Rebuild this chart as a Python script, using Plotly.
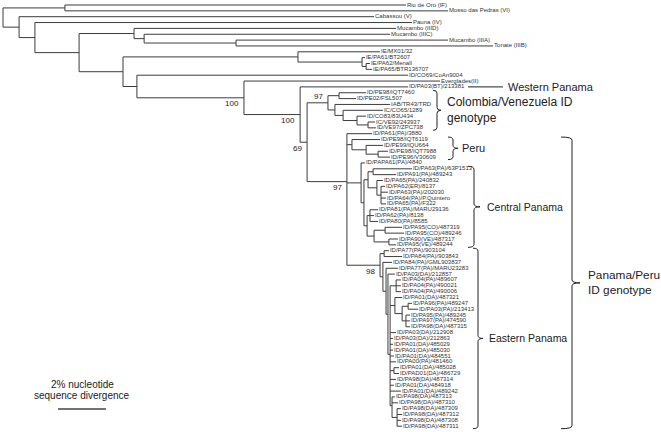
import plotly.graph_objects as go

# Leaves from top to bottom; depth = % nucleotide divergence from the root
leaf_names = [
    "Rio de Oro (IF)", "Mosso das Pedras (VI)", "Cabassou (V)", "Pauna (IV)",
    "Mucambo (IIID)", "Mucambo (IIIC)", "Mucambo (IIIA)", "Tonate (IIIB)",
    "IE/MX01/32", "IE/PA61/BT2607", "IE/PA62/Menall", "IE/PA65/BTR136707",
    "ID/CO69/CoAn9004", "Everglades(II)", "ID/PA03(BT)/213381",
    "ID/PE98/IQT7460", "ID/PE02/FSL507", "IAB/TR43/TRD", "IC/CO65/1289",
    "ID/CO83/83U434", "IC/VE92/243937", "ID/VE97/ZPC738",
    "ID/PA61(PA)/3880", "ID/PE98/IQT6119", "ID/PE99/IQU664", "ID/PE98/IQT7988",
    "ID/PE96/V30609", "ID/PAPA61(PA)/4840", "ID/PA63(PA)/63P1513",
    "ID/PA91(PA)/489243", "ID/PA65(PA)/240832", "ID/PA62(ER)/8137",
    "ID/PA63(PA)/202030", "ID/PA64(PA)/P.Quintero", "ID/PA65(PA)/F322",
    "ID/PA81(PA)/MARU29136", "ID/PA62(PA)/8138", "ID/PA80(PA)/8585",
    "ID/PA95(CO)/487319", "ID/PA95(CO)/489246", "ID/PA90(VE)/487317",
    "ID/PA95(VE)/489244", "ID/PA77(PA)/903104", "ID/PA84(PA)/903843",
    "ID/PA84(PA)/GML903837", "ID/PA77(PA)/MARU23283", "ID/PA03(DA)/212857",
    "ID/PA04(PA)/489607", "ID/PA04(PA)/490021", "ID/PA04(PA)/490006",
    "ID/PA01(DA)/487321", "ID/PA96(PA)/489247", "ID/PA03(PA)/213413",
    "ID/PA95(PA)/489245", "ID/PA97(PA)/474590", "ID/PA98(DA)/487315",
    "ID/PA03(DA)/212908", "ID/PA03(DA)/212863", "ID/PA01(DA)/485029",
    "ID/PA01(DA)/485030", "ID/PA01(DA)/484551", "ID/PA00(PA)/481460",
    "ID/PA01(DA)/485028", "ID/PAD01(DA)/486729", "ID/PA98(DA)/487314",
    "ID/PA01(DA)/484918", "ID/PA01(DA)/489242", "ID/PA98(DA)/487313",
    "ID/PA98(DA)/487310", "ID/PA98(DA)/487309", "ID/PA98(DA)/487312",
    "ID/PA98(DA)/487308", "ID/PA98(DA)/487311",
]
leaf_depth = [
    16.79, 18.54, 15.46, 17.04, 16.38, 16.13, 18.54, 20.42,
    15.71, 15.08, 15.29, 15.38, 16.88, 18.21, 16.88,
    15.13, 14.71, 16.13, 15.83, 15.13, 15.50, 15.54,
    15.38, 15.71, 15.83, 16.04, 16.13, 15.08, 17.04, 16.38,
    15.83, 15.92, 16.04, 15.96, 15.96, 15.63, 15.46, 15.63,
    16.63, 16.71, 16.46, 16.38, 16.08, 16.63, 16.21, 16.46, 16.33,
    16.58, 16.58, 16.58, 16.63, 17.04, 17.29, 16.96, 16.96, 16.96,
    16.38, 16.25, 16.25, 16.25, 16.29, 16.38, 16.50, 16.50, 16.38,
    16.29, 16.58, 16.33, 16.46, 16.58, 16.63, 16.58, 16.63,
]
leaf_parent = [
    "B1", "B1", "C", "D", "F", "F2", "F3", "F3",
    "H", "H2", "H3", "H3", "I", "J", "K",
    "M1", "M1", "M2", "M3", "M4", "M5", "M5",
    "N", "P", "P2", "P3", "P3", "O", "CA1", "CA1",
    "CA2", "CC", "CC", "CC", "CC", "CB", "CB", "CB",
    "CV2", "CV2", "CV3", "CV3", "Ea", "Ea", "E1", "E2", "E3",
    "E4a", "E4a", "E4a", "Ed", "Eg", "Eg", "Eh", "Eh", "Eh",
    "E4", "E4", "E4", "E4", "E4", "E4", "En1", "En1", "E4",
    "E4", "E4", "EZ", "EZ", "EW", "EW", "EW", "EW",
]

# Internal nodes
node_names = [
    "A", "B1", "C", "D", "E", "F", "F2", "F3", "G", "H", "H2", "H3", "I", "J",
    "K", "L", "M", "M1", "M2", "M3", "M4", "M5", "N", "P", "P2", "P3", "O",
    "C0", "C1", "CA1", "CA2", "CC", "C2", "CB", "CV", "CV2", "CV3",
    "E0", "Ea", "E1", "E2", "E3", "E4", "E4a", "Ed", "Ef", "Eg", "Eh",
    "En1", "EZ", "EW",
]
node_depth = [
    0.00, 2.58, 0.67, 1.33, 3.17, 5.46, 5.88, 9.71, 5.00, 12.29, 14.96, 15.13,
    5.58, 10.04, 12.38, 12.67, 13.54, 14.00, 13.83, 14.17, 14.75, 15.21,
    14.33, 14.54, 15.13, 15.63, 14.92,
    15.04, 15.21, 15.42, 15.58, 15.75, 15.17, 15.29, 15.46, 15.92, 16.08,
    15.71, 15.88, 15.83, 15.96, 16.04, 16.13, 16.38, 16.33, 16.63, 16.88,
    16.79, 16.29, 16.21, 16.42,
]
node_parent = [
    None, "A", "A", "C", "D", "E", "F", "F2", "E", "G", "H", "H2", "G", "I",
    "J", "K", "L", "M", "M", "M2", "M3", "M4", "L", "N", "P", "P2", "N",
    "O", "C0", "C1", "C1", "CA2", "C0", "C2", "C2", "CV", "CV",
    "N", "E0", "E0", "E1", "E2", "E3", "E4", "E4", "Ed", "Ef", "Ef",
    "E4", "E4", "EZ",
]

bootstrap_nodes = ["J", "K", "M", "L", "N", "E0"]
bootstrap_values = ["100", "100", "97", "69", "97", "98"]

group_labels = ["Colombia/Venezuela ID<br>genotype", "Peru", "Central Panama",
                "Eastern Panama", "Panama/Peru<br>ID genotype"]
group_first = ["ID/PE98/IQT7460", "ID/PE98/IQT6119", "ID/PA63(PA)/63P1513",
               "ID/PA77(PA)/903104", "ID/PE98/IQT6119"]
group_last = ["ID/VE97/ZPC738", "ID/PE96/V30609", "ID/PA95(VE)/489244",
              "ID/PA98(DA)/487311", "ID/PA98(DA)/487311"]
western_label = "Western Panama"
western_leaf = "ID/PA03(BT)/213381"

scale_bar = 2  # % divergence

# ---- layout helpers (pixel -> data for decorations) ----
W, H = 661, 432
X0_PX, PX_PER_PCT = 3, 24.0
Y0_PX, PX_PER_LEAF = 5, 5.85


def px_x(p):
    return (p - X0_PX) / PX_PER_PCT


def px_y(p):
    return (p - Y0_PX) / PX_PER_LEAF


# ---- tree geometry ----
depth = dict(zip(node_names, node_depth))
parent = dict(zip(node_names, node_parent))
children = {n: [] for n in node_names}
ypos = {}
for i, (name, par) in enumerate(zip(leaf_names, leaf_parent)):
    ypos[name] = i
    depth[name] = leaf_depth[i]
    parent[name] = par
    children[par].append(name)
for n, par in zip(node_names, node_parent):
    if par is not None:
        children[par].append(n)


def node_y(n):
    if n in ypos:
        return ypos[n]
    ys = [node_y(c) for c in children[n]]
    ypos[n] = sum(ys) / len(ys)
    return ypos[n]


for n in node_names:
    node_y(n)

xs, ys = [], []
for n, par in parent.items():
    if par is None:
        continue
    xs += [depth[par], depth[n], None]
    ys += [ypos[n], ypos[n], None]
for n in node_names:
    cy = [ypos[c] for c in children[n]]
    xs += [depth[n], depth[n], None]
    ys += [min(cy), max(cy), None]

LINE = "#3c3c3c"
FONT = "Liberation Sans, Arial, sans-serif"

fig = go.Figure()
fig.add_trace(go.Scatter(x=xs, y=ys, mode="lines",
                         line=dict(color=LINE, width=1), hoverinfo="skip"))
fig.add_trace(go.Scatter(
    x=[d + px_x(X0_PX + 1) for d in leaf_depth], y=list(range(len(leaf_names))),
    mode="text", text=leaf_names, textposition="middle right",
    textfont=dict(family=FONT, size=6, color="#333"), hoverinfo="skip"))

# bootstrap support
for n, v in zip(bootstrap_nodes, bootstrap_values):
    fig.add_annotation(x=depth[n], y=ypos[n], text=v, showarrow=False,
                       xanchor="right", yanchor="middle", xshift=-3,
                       yshift=6 if n == "M" else -6,
                       font=dict(family=FONT, size=8, color="#222"))

# western panama pointer
wy = ypos[western_leaf]
fig.add_trace(go.Scatter(x=[px_x(468), px_x(503)], y=[wy, wy], mode="lines",
                         line=dict(color="#222", width=1), hoverinfo="skip"))
fig.add_annotation(x=px_x(506), y=wy, text=western_label, showarrow=False,
                   xanchor="left", yanchor="middle",
                   font=dict(family=FONT, size=11, color="#222"))

# curly braces
brace_x = [437, 453, 474, 478, 572]
brace_w = [4, 5, 6, 5, 11]
brace_tip = [4, 5, 6, 5, 8]
text_x = [445, 460, 485, 487, 586]
text_size = [12, 11, 10.5, 10.5, 11.8]
for lab, a, b, bx, bw, bt, tx, ts in zip(group_labels, group_first, group_last,
                                         brace_x, brace_w, brace_tip, text_x, text_size):
    y0 = ypos[a] - px_y(Y0_PX + 2.5)
    y1 = ypos[b] + px_y(Y0_PX + 2.5)
    ym = (ypos[a] + ypos[b]) / 2
    h = px_y(Y0_PX + 3)
    x = px_x(bx)
    xl = px_x(bx - bw)
    xr = px_x(bx + bt)
    path = (f"M {xl},{y0} Q {x},{y0} {x},{y0 + h} L {x},{ym - h} "
            f"Q {x},{ym} {xr},{ym} Q {x},{ym} {x},{ym + h} "
            f"L {x},{y1 - h} Q {x},{y1} {xl},{y1}")
    fig.add_shape(type="path", path=path, xref="x", yref="y",
                  line=dict(color="#222", width=1))
    fig.add_annotation(x=px_x(tx), y=ym, text=lab, showarrow=False,
                       xanchor="left", yanchor="middle", align="left",
                       font=dict(family=FONT, size=ts, color="#222"))

# scale bar
sb_x = px_x(58)
sb_y = px_y(409)
fig.add_trace(go.Scatter(x=[sb_x, sb_x + scale_bar], y=[sb_y, sb_y], mode="lines",
                         line=dict(color="#444", width=1.6), hoverinfo="skip"))
fig.add_annotation(x=sb_x + scale_bar / 2, y=px_y(384), text=f"{scale_bar}% nucleotide",
                   showarrow=False, xanchor="center", yanchor="middle",
                   font=dict(family=FONT, size=10, color="#222"))
fig.add_annotation(x=sb_x + scale_bar / 2, y=px_y(395), text="sequence divergence",
                   showarrow=False, xanchor="center", yanchor="middle",
                   font=dict(family=FONT, size=10, color="#222"))

fig.update_layout(
    width=W, height=H, margin=dict(l=0, r=0, t=0, b=0),
    paper_bgcolor="white", plot_bgcolor="white", showlegend=False,
    xaxis=dict(range=[px_x(0), px_x(W)], visible=False),
    yaxis=dict(range=[px_y(H), px_y(0)], visible=False),
)

fig.write_html("out.html", config={"displayModeBar": False},
               post_script="document.body.style.margin='0';document.body.style.overflow='hidden';")
